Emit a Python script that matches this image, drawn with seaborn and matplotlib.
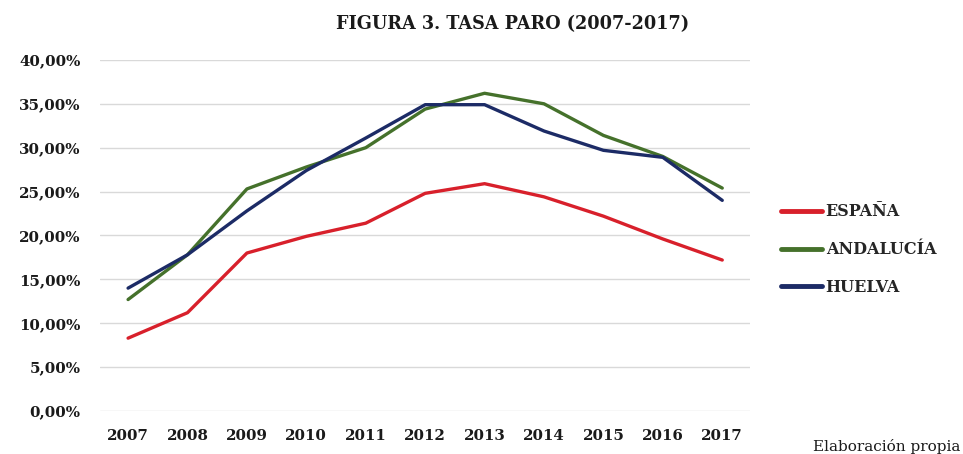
import matplotlib
matplotlib.use("Agg")
import matplotlib.pyplot as plt
import seaborn as sns
import pandas as pd
from matplotlib.ticker import FuncFormatter, MultipleLocator
from matplotlib.lines import Line2D

years = ["2007", "2008", "2009", "2010", "2011", "2012", "2013", "2014", "2015", "2016", "2017"]
espana = [8.3, 11.2, 18.0, 19.9, 21.4, 24.8, 25.9, 24.4, 22.2, 19.6, 17.2]
andalucia = [12.7, 17.8, 25.3, 27.8, 30.0, 34.4, 36.2, 35.0, 31.4, 29.0, 25.4]
huelva = [14.0, 17.8, 22.8, 27.4, 31.1, 34.9, 34.9, 31.9, 29.7, 28.9, 24.0]
series_names = ["ESPAÑA", "ANDALUCÍA", "HUELVA"]
colors = ["#D8202B", "#45712B", "#1C2B66"]

df = pd.DataFrame({
    "year": years * 3,
    "pos": list(range(len(years))) * 3,
    "value": [v / 100 for v in espana + andalucia + huelva],
    "serie": [series_names[0]] * len(years) + [series_names[1]] * len(years) + [series_names[2]] * len(years),
})

sns.set_style("white")
plt.rcParams["font.family"] = ["DejaVu Serif"]

fig = plt.figure(figsize=(9.63, 4.54), dpi=100)
ax = fig.add_axes([0.104, 0.0947, 0.675, 0.7733])

sns.lineplot(data=df, x="pos", y="value", hue="serie", palette=dict(zip(series_names, colors)),
             linewidth=2.4, ax=ax, legend=False)

ax.set_xlim(-0.47, 10.47)
ax.set_ylim(0, 0.40)
ax.yaxis.set_major_locator(MultipleLocator(0.05))
ax.yaxis.set_major_formatter(FuncFormatter(lambda v, p: f"{v*100:.2f}%".replace(".", ",")))
ax.set_xticks(range(len(years)))
ax.set_xticklabels(years)
ax.grid(axis="y", color="#D9D9D9", linewidth=1.0)
ax.set_axisbelow(True)
for s in ax.spines.values():
    s.set_visible(False)
ax.tick_params(axis="both", length=0, labelsize=10.8, colors="#1a1a1a")
ax.tick_params(axis="y", pad=14)
ax.tick_params(axis="x", pad=13)
for lbl in ax.get_xticklabels() + ax.get_yticklabels():
    lbl.set_fontweight("bold")
ax.set_xlabel("")
ax.set_ylabel("")

fig.text(0.532, 0.948, "FIGURA 3. TASA PARO (2007-2017)", ha="center", va="center",
         fontsize=12.7, fontweight="bold", color="#1a1a1a")

handles = [Line2D([0], [0], color=c, linewidth=3.5) for c in colors]
leg = fig.legend(handles, series_names, loc="center left", bbox_to_anchor=(0.796, 0.45),
                 frameon=False, handlelength=2.6, handletextpad=0.2, labelspacing=1.3,
                 prop={"weight": "bold", "size": 11.5})

fig.text(0.997, 0.016, "Elaboración propia", ha="right", va="center", fontsize=11, color="#1a1a1a")

fig.savefig("out.png", dpi=100)
